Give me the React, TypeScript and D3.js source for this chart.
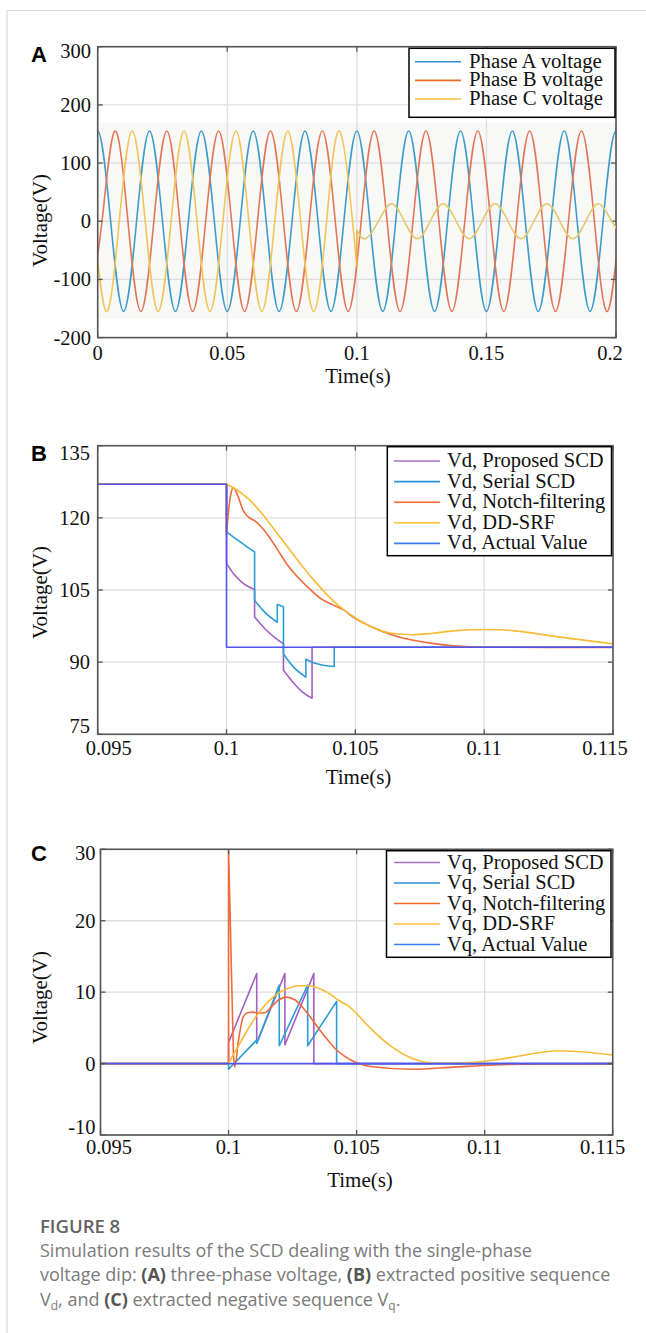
import React from "react";
import * as d3 from "d3";

type Pt = [number, number];

// ---------------- Panel A data (three-phase voltage) ----------------
const aTimeTicks = [0, 0.05, 0.1, 0.15, 0.2];
const aVoltTicks = [-200, -100, 0, 100, 200, 300];
const aNames = ["Phase A voltage", "Phase B voltage", "Phase C voltage"];

// peaks / troughs / zero crossings
const phaseA: Pt[] = [
  [-0.005, 0], [0, 155], [0.005, 0], [0.01, -155], [0.015, 0], [0.02, 155], [0.025, 0], [0.03, -155], [0.035, 0],
  [0.04, 155], [0.045, 0], [0.05, -155], [0.055, 0], [0.06, 155], [0.065, 0], [0.07, -155], [0.075, 0], [0.08, 155],
  [0.085, 0], [0.09, -155], [0.095, 0], [0.1, 155], [0.105, 0], [0.11, -155], [0.115, 0], [0.12, 155], [0.125, 0],
  [0.13, -155], [0.135, 0], [0.14, 155], [0.145, 0], [0.15, -155], [0.155, 0], [0.16, 155], [0.165, 0], [0.17, -155],
  [0.175, 0], [0.18, 155], [0.185, 0], [0.19, -155], [0.195, 0], [0.2, 155], [0.205, 0],
];
const phaseB: Pt[] = [
  [-0.00333, -155], [0.00167, 0], [0.00667, 155], [0.01167, 0], [0.01667, -155], [0.02167, 0], [0.02667, 155],
  [0.03167, 0], [0.03667, -155], [0.04167, 0], [0.04667, 155], [0.05167, 0], [0.05667, -155], [0.06167, 0],
  [0.06667, 155], [0.07167, 0], [0.07667, -155], [0.08167, 0], [0.08667, 155], [0.09167, 0], [0.09667, -155],
  [0.10167, 0], [0.10667, 155], [0.11167, 0], [0.11667, -155], [0.12167, 0], [0.12667, 155], [0.13167, 0],
  [0.13667, -155], [0.14167, 0], [0.14667, 155], [0.15167, 0], [0.15667, -155], [0.16167, 0], [0.16667, 155],
  [0.17167, 0], [0.17667, -155], [0.18167, 0], [0.18667, 155], [0.19167, 0], [0.19667, -155], [0.20167, 0],
  [0.20667, 155],
];
const phaseCBefore: Pt[] = [
  [-0.00667, 155], [-0.00167, 0], [0.00333, -155], [0.00833, 0], [0.01333, 155], [0.01833, 0], [0.02333, -155],
  [0.02833, 0], [0.03333, 155], [0.03833, 0], [0.04333, -155], [0.04833, 0], [0.05333, 155], [0.05833, 0],
  [0.06333, -155], [0.06833, 0], [0.07333, 155], [0.07833, 0], [0.08333, -155], [0.08833, 0], [0.09333, 155],
  [0.09833, 0], [0.1, -77.5],
];
const phaseCJump: Pt[] = [[0.1, -77.5], [0.1, -15]];
const phaseCDip: Pt[] = [
  [0.1, -15], [0.10333, -30], [0.10833, 0], [0.11333, 30], [0.11833, 0], [0.12333, -30], [0.12833, 0],
  [0.13333, 30], [0.13833, 0], [0.14333, -30], [0.14833, 0], [0.15333, 30], [0.15833, 0], [0.16333, -30],
  [0.16833, 0], [0.17333, 30], [0.17833, 0], [0.18333, -30], [0.18833, 0], [0.19333, 30], [0.19833, 0],
  [0.20333, -30],
];

// ---------------- Panel B data (Vd) ----------------
const bTimeTicks = [0.095, 0.1, 0.105, 0.11, 0.115];
const bVoltTicks = [75, 90, 105, 120, 135];
const bNames = ["Vd, Proposed SCD", "Vd, Serial SCD", "Vd, Notch-filtering", "Vd, DD-SRF", "Vd, Actual Value"];

const vdProposed: Pt[][] = [
  [[0.095, 127], [0.1, 127]],
  [[0.1, 110.5], [0.1003, 108.2], [0.1006, 106.6], [0.10109, 105.1]],
  [[0.10109, 99.4], [0.1015, 96.9], [0.1019, 95.0], [0.10221, 93.8]],
  [[0.10221, 88.3], [0.10263, 85.5], [0.10295, 83.75], [0.10332, 82.5]],
  [[0.10332, 93.1], [0.115, 93.1]],
];
const vdSerial: Pt[][] = [
  [[0.095, 127], [0.1, 127]],
  [[0.1, 117.1], [0.10045, 115.3], [0.10084, 113.8], [0.10109, 112.9]],
  [[0.10109, 102.8], [0.10148, 100.4], [0.10197, 98.3]],
  [[0.10197, 102.0], [0.10221, 101.5]],
  [[0.10221, 91.7], [0.10263, 88.8], [0.10308, 86.9]],
  [[0.10308, 90.6], [0.10341, 89.8], [0.1038, 89.3], [0.10418, 89.1]],
  [[0.10418, 93.1], [0.115, 93.1]],
];
const vdNotch: Pt[][] = [
  [[0.095, 127], [0.1, 127]],
  [[0.1, 116.5], [0.10008, 121.5], [0.10017, 125.0], [0.10026, 126.3], [0.10045, 124.4], [0.10064, 121.6],
   [0.10084, 120.2], [0.10109, 119.4], [0.10135, 118.1], [0.10161, 116.4], [0.10199, 113.3], [0.10238, 110.1],
   [0.10276, 107.7], [0.10315, 105.6], [0.10366, 103.2], [0.10418, 101.8], [0.10456, 100.8], [0.1048, 99.8],
   [0.1056, 97.4], [0.1064, 95.7], [0.1072, 94.6], [0.108, 93.9], [0.1088, 93.4], [0.11, 93.1], [0.115, 93.05]],
];
const vdDDSRF: Pt[][] = [
  [[0.095, 127], [0.1, 127]],
  [[0.1, 127], [0.10032, 126.1], [0.10084, 124.0], [0.10148, 120.2], [0.10212, 115.7], [0.10276, 111.2],
   [0.1034, 107.0], [0.10405, 103.2], [0.10456, 100.8], [0.1048, 99.9], [0.1056, 97.4], [0.1064, 96.0],
   [0.1072, 95.7], [0.108, 96.0], [0.1088, 96.5], [0.1101, 96.8], [0.1112, 96.5], [0.1128, 95.3], [0.115, 93.8]],
];
const vdActual: Pt[][] = [[[0.095, 127], [0.1, 127]], [[0.1, 93.1], [0.115, 93.1]]];

// ---------------- Panel C data (Vq) ----------------
const cTimeTicks = [0.095, 0.1, 0.105, 0.11, 0.115];
const cVoltTicks = [-10, 0, 10, 20, 30];
const cNames = ["Vq, Proposed SCD", "Vq, Serial SCD", "Vq, Notch-filtering", "Vq, DD-SRF", "Vq, Actual Value"];

const vqProposed: Pt[][] = [
  [[0.095, 0], [0.1, 0]],
  [[0.1, 2.95], [0.1011, 12.6]],
  [[0.1011, 2.85], [0.1022, 12.6]],
  [[0.1022, 2.6], [0.10333, 12.6]],
  [[0.10333, 0], [0.115, 0]],
];
const vqSerial: Pt[][] = [
  [[0.095, 0], [0.1, 0]],
  [[0.1, -0.8], [0.1011, 3.3]],
  [[0.1011, 2.85], [0.10198, 11.0]],
  [[0.10198, 2.5], [0.10309, 11.0]],
  [[0.10309, 2.5], [0.10422, 8.7]],
  [[0.10422, 0], [0.115, 0]],
];
const vqNotch: Pt[][] = [
  [[0.095, 0], [0.1, 0]],
  [[0.1, 30], [0.10019, 1.4]],
  [[0.10019, 1.4], [0.10024, -0.5], [0.10039, 3.3], [0.10058, 6.6], [0.10078, 7.15], [0.10097, 7.2],
   [0.10117, 7.05], [0.10143, 7.15], [0.10169, 8.0], [0.10195, 8.9], [0.10227, 9.3], [0.1026, 8.9],
   [0.10298, 7.5], [0.10337, 5.65], [0.10376, 3.8], [0.10415, 2.15], [0.10454, 1.0], [0.10555, -0.4],
   [0.10716, -0.8], [0.10877, -0.5], [0.11038, -0.2], [0.112, -0.05], [0.115, 0]],
];
const vqDDSRF: Pt[][] = [
  [[0.095, 0], [0.1, 0]],
  [[0.1, 0], [0.10026, 1.7], [0.10052, 3.3], [0.10078, 4.95], [0.10117, 7.05], [0.10156, 8.7], [0.10195, 9.9],
   [0.10234, 10.56], [0.10272, 10.9], [0.10311, 10.9], [0.1035, 10.56], [0.10389, 9.9], [0.10428, 8.9],
   [0.1047, 8.0], [0.10555, 4.9], [0.10635, 2.4], [0.10716, 0.75], [0.10796, 0.08], [0.10877, 0.05],
   [0.11038, 0.5], [0.11199, 1.45], [0.11279, 1.8], [0.1136, 1.7], [0.115, 1.2]],
];
const vqActual: Pt[][] = [[[0.095, 0], [0.115, 0]]];

// ---------------- styling ----------------
const SERIF = "'Liberation Serif', 'Times New Roman', Times, serif";
const SANS = "'Liberation Sans', Arial, Helvetica, sans-serif";
const CAPTION_FONT = "'Open Sans', 'Noto Sans', sans-serif";

type SeriesDef = { name: string; segs: Pt[][]; color: string; legendColor: string; curve: d3.CurveFactory };

type PanelDef = {
  letter: string;
  letterY: number;
  l: number; r: number; t: number; b: number;
  xDomain: [number, number];
  yDomain: [number, number];
  xTicks: number[];
  yTicks: number[];
  yNudgeTop: number;
  yNudgeBottom: number;
  xNudgeFirst: number;
  xNudgeLast: number;
  yLabelR: number;
  xTickBase: number;
  xLabelX: number;
  xLabelBase: number;
  yLabelCY: number;
  series: SeriesDef[];
  legend: { x0: number; x1: number; y0: number; y1: number; first: number; rowH: number; lx0: number; lx1: number; tx: number; fs: number };
  bg?: [number, number];
  id: string;
};

function pathFromSegments(segs: Pt[][], x: d3.ScaleLinear<number, number>, y: d3.ScaleLinear<number, number>, curve: d3.CurveFactory) {
  const gen = d3.line<Pt>().x((p) => x(p[0])).y((p) => y(p[1])).curve(curve);
  let d = "";
  segs.forEach((s, i) => {
    const part = gen(s) || "";
    d += i === 0 ? part : "L" + part.slice(1);
  });
  return d;
}

function Panel({ p }: { p: PanelDef }) {
  const x = d3.scaleLinear().domain(p.xDomain).range([p.l, p.r]);
  const y = d3.scaleLinear().domain(p.yDomain).range([p.b, p.t]);
  const tick = 5;
  const frame = "#555";
  return (
    <g>
      <defs>
        <clipPath id={`clip-${p.id}`}>
          <rect x={p.l} y={p.t} width={p.r - p.l} height={p.b - p.t} />
        </clipPath>
      </defs>
      <rect x={p.l} y={p.t} width={p.r - p.l} height={p.b - p.t} fill="#fff" />
      {p.bg && (
        <rect x={p.l} y={y(p.bg[0])} width={p.r - p.l} height={y(p.bg[1]) - y(p.bg[0])} fill="#f8f9f7" />
      )}
      {/* grid */}
      {p.xTicks.map((v) => (
        <line key={"gx" + v} x1={x(v)} x2={x(v)} y1={p.t} y2={p.b} stroke="#dedede" strokeWidth={1.3} />
      ))}
      {p.yTicks.map((v) => (
        <line key={"gy" + v} x1={p.l} x2={p.r} y1={y(v)} y2={y(v)} stroke="#dedede" strokeWidth={1.3} />
      ))}
      {/* series */}
      <g clipPath={`url(#clip-${p.id})`}>
        {p.series.map((s) => (
          <path key={s.name} d={pathFromSegments(s.segs, x, y, s.curve)} fill="none" stroke={s.color}
            strokeWidth={1.6} strokeLinejoin="round" />
        ))}
      </g>
      {/* ticks (inward, all sides) */}
      {p.xTicks.map((v) => (
        <g key={"tx" + v}>
          <line x1={x(v)} x2={x(v)} y1={p.b} y2={p.b - tick} stroke={frame} strokeWidth={1.3} />
          <line x1={x(v)} x2={x(v)} y1={p.t} y2={p.t + tick} stroke={frame} strokeWidth={1.3} />
        </g>
      ))}
      {p.yTicks.map((v) => (
        <g key={"ty" + v}>
          <line x1={p.l} x2={p.l + tick} y1={y(v)} y2={y(v)} stroke={frame} strokeWidth={1.3} />
          <line x1={p.r} x2={p.r - tick} y1={y(v)} y2={y(v)} stroke={frame} strokeWidth={1.3} />
        </g>
      ))}
      <rect x={p.l} y={p.t} width={p.r - p.l} height={p.b - p.t} fill="none" stroke={frame} strokeWidth={1.6} />
      {/* tick labels */}
      {p.xTicks.map((v, i) => {
        let xx = x(v);
        if (i === 0) xx += p.xNudgeFirst;
        if (i === p.xTicks.length - 1) xx += p.xNudgeLast;
        return (
          <text key={"lx" + v} x={xx} y={p.xTickBase} textAnchor="middle" fontFamily={SERIF} fontSize={20.5} fill="#111">
            {String(v)}
          </text>
        );
      })}
      {p.yTicks.map((v, i) => {
        let yy = y(v);
        if (i === p.yTicks.length - 1) yy += p.yNudgeTop;
        if (i === 0) yy += p.yNudgeBottom;
        return (
          <text key={"ly" + v} x={p.yLabelR} y={yy + 7} textAnchor="end" fontFamily={SERIF} fontSize={20.5} fill="#111">
            {String(v)}
          </text>
        );
      })}
      {/* axis titles */}
      <text x={p.xLabelX} y={p.xLabelBase} textAnchor="middle" fontFamily={SERIF} fontSize={21} fill="#111">Time(s)</text>
      <text transform={`translate(47,${p.yLabelCY}) rotate(-90)`} textAnchor="middle" fontFamily={SERIF} fontSize={21} fill="#111">
        Voltage(V)
      </text>
      {/* panel letter */}
      <text x={31} y={p.letterY} fontFamily={SANS} fontWeight="bold" fontSize={22} fill="#000">{p.letter}</text>
      {/* legend */}
      <rect x={p.legend.x0} y={p.legend.y0} width={p.legend.x1 - p.legend.x0} height={p.legend.y1 - p.legend.y0}
        fill="#fff" stroke="#000" strokeWidth={1.5} />
      {p.series.map((s, i) => {
        const ly = p.legend.y0 + p.legend.first + i * p.legend.rowH;
        return (
          <g key={"lg" + s.name}>
            <line x1={p.legend.lx0} x2={p.legend.lx1} y1={ly} y2={ly} stroke={s.legendColor} strokeWidth={1.6} />
            <text x={p.legend.tx} y={ly + 6} fontFamily={SERIF} fontSize={p.legend.fs} fill="#111">{s.name}</text>
          </g>
        );
      })}
    </g>
  );
}

const panelA: PanelDef = {
  id: "a",
  letter: "A",
  letterY: 61.5,
  l: 97.7, r: 616, t: 46.7, b: 337.6,
  xDomain: [0, 0.2],
  yDomain: [-200, 300],
  xTicks: aTimeTicks,
  yTicks: aVoltTicks,
  yNudgeTop: 4,
  yNudgeBottom: 0,
  xNudgeFirst: 0,
  xNudgeLast: -6,
  yLabelR: 91,
  xTickBase: 359.5,
  xLabelX: 358,
  xLabelBase: 382.5,
  yLabelCY: 220.5,
  bg: [170, -168],
  series: [
    { name: aNames[0], segs: [phaseA], color: "#3d9cc9", legendColor: "#2b8fd6", curve: d3.curveNatural },
    { name: aNames[1], segs: [phaseB], color: "#e27658", legendColor: "#f26a2a", curve: d3.curveNatural },
    { name: aNames[2], segs: [phaseCBefore], color: "#f0c45a", legendColor: "#fbbf3a", curve: d3.curveNatural },
  ],
  legend: { x0: 409, x1: 615, y0: 48.3, y1: 117.3, first: 13.4, rowH: 18.65, lx0: 415, lx1: 461, tx: 469, fs: 20.8 },
};

const panelB: PanelDef = {
  id: "b",
  letter: "B",
  letterY: 461,
  l: 97.7, r: 613, t: 445.7, b: 734.3,
  xDomain: [0.095, 0.115],
  yDomain: [75, 135],
  xTicks: bTimeTicks,
  yTicks: bVoltTicks,
  yNudgeTop: 7,
  yNudgeBottom: -8,
  xNudgeFirst: 11,
  xNudgeLast: -8,
  yLabelR: 90,
  xTickBase: 754.5,
  xLabelX: 358.5,
  xLabelBase: 783.5,
  yLabelCY: 592.5,
  series: [
    { name: bNames[0], segs: vdProposed, color: "#a45fc3", legendColor: "#a070c8", curve: d3.curveMonotoneX },
    { name: bNames[1], segs: vdSerial, color: "#2b9cd8", legendColor: "#2a8fd4", curve: d3.curveMonotoneX },
    { name: bNames[2], segs: vdNotch, color: "#f06a3c", legendColor: "#f4692a", curve: d3.curveMonotoneX },
    { name: bNames[3], segs: vdDDSRF, color: "#f7bb35", legendColor: "#fbbd30", curve: d3.curveMonotoneX },
    { name: bNames[4], segs: vdActual, color: "#5055f2", legendColor: "#3a7df0", curve: d3.curveLinear },
  ],
  legend: { x0: 387.3, x1: 611.5, y0: 446.7, y1: 555.7, first: 14.3, rowH: 20.6, lx0: 394, lx1: 440, tx: 447, fs: 20.5 },
};

const panelC: PanelDef = {
  id: "c",
  letter: "C",
  letterY: 860.5,
  l: 100.5, r: 612.7, t: 849.3, b: 1135,
  xDomain: [0.095, 0.115],
  yDomain: [-10, 30],
  xTicks: cTimeTicks,
  yTicks: cVoltTicks,
  yNudgeTop: 4,
  yNudgeBottom: -8,
  xNudgeFirst: 8.5,
  xNudgeLast: -10,
  yLabelR: 95.5,
  xTickBase: 1153.5,
  xLabelX: 360,
  xLabelBase: 1186.5,
  yLabelCY: 997.5,
  series: [
    { name: cNames[0], segs: vqProposed, color: "#a45fc3", legendColor: "#a070c8", curve: d3.curveLinear },
    { name: cNames[1], segs: vqSerial, color: "#2b9cd8", legendColor: "#2a8fd4", curve: d3.curveLinear },
    { name: cNames[2], segs: vqNotch, color: "#f06a3c", legendColor: "#f4692a", curve: d3.curveMonotoneX },
    { name: cNames[3], segs: vqDDSRF, color: "#f7bb35", legendColor: "#fbbd30", curve: d3.curveMonotoneX },
    { name: cNames[4], segs: vqActual, color: "#5055f2", legendColor: "#3a7df0", curve: d3.curveLinear },
  ],
  legend: { x0: 386.5, x1: 611, y0: 850.7, y1: 957.3, first: 11.8, rowH: 20.5, lx0: 394, lx1: 440, tx: 447, fs: 20.5 },
};

function PhaseCExtra() {
  // the dipped part of phase C drawn on the panel A scales
  const x = d3.scaleLinear().domain(panelA.xDomain).range([panelA.l, panelA.r]);
  const y = d3.scaleLinear().domain(panelA.yDomain).range([panelA.b, panelA.t]);
  const jump = d3.line<Pt>().x((p) => x(p[0])).y((p) => y(p[1]))(phaseCJump) || "";
  const dip = d3.line<Pt>().x((p) => x(p[0])).y((p) => y(p[1])).curve(d3.curveNatural)(phaseCDip) || "";
  return (
    <g clipPath="url(#clip-a)">
      <path d={jump} fill="none" stroke="#f0b040" strokeWidth={1.6} />
      <path d={dip} fill="none" stroke="#e6c86c" strokeWidth={1.6} />
    </g>
  );
}

export default function App() {
  const cap = "#7a7a7a";
  const capBold = "#555";
  const fs = 18;
  return (
    <svg width={646} height={1333} viewBox="0 0 646 1333"
      style={{ position: "absolute", left: 0, top: 0, display: "block", background: "#fff" }}>
      <rect x={0} y={0} width={646} height={1333} fill="#fff" />
      <line x1={7} y1={10.5} x2={646} y2={10.5} stroke="#d9d9d9" strokeWidth={1.2} />
      <line x1={7} y1={10} x2={7} y2={1333} stroke="#d9d9d9" strokeWidth={1.2} />
      <Panel p={panelA} />
      <PhaseCExtra />
      <Panel p={panelB} />
      <Panel p={panelC} />
      {/* caption */}
      <text x={40} y={1233} fontFamily={CAPTION_FONT} fontSize={18.5} fontWeight={600} fill="#636363">FIGURE 8</text>
      <text x={40} y={1257} fontFamily={CAPTION_FONT} fontSize={fs} fill={cap}>
        Simulation results of the SCD dealing with the single-phase
      </text>
      <text x={40} y={1281} fontFamily={CAPTION_FONT} fontSize={fs} fill={cap}>
        voltage dip: <tspan fontWeight={700} fill={capBold}>(A)</tspan> three-phase voltage,{" "}
        <tspan fontWeight={700} fill={capBold}>(B)</tspan> extracted positive sequence
      </text>
      <text x={40} y={1305.5} fontFamily={CAPTION_FONT} fontSize={fs} fill={cap}>
        V<tspan fontSize={12} dy={4}>d</tspan><tspan dy={-4}>, and </tspan>
        <tspan fontWeight={700} fill={capBold}>(C)</tspan> extracted negative sequence V
        <tspan fontSize={12} dy={4}>q</tspan><tspan dy={-4}>.</tspan>
      </text>
    </svg>
  );
}
